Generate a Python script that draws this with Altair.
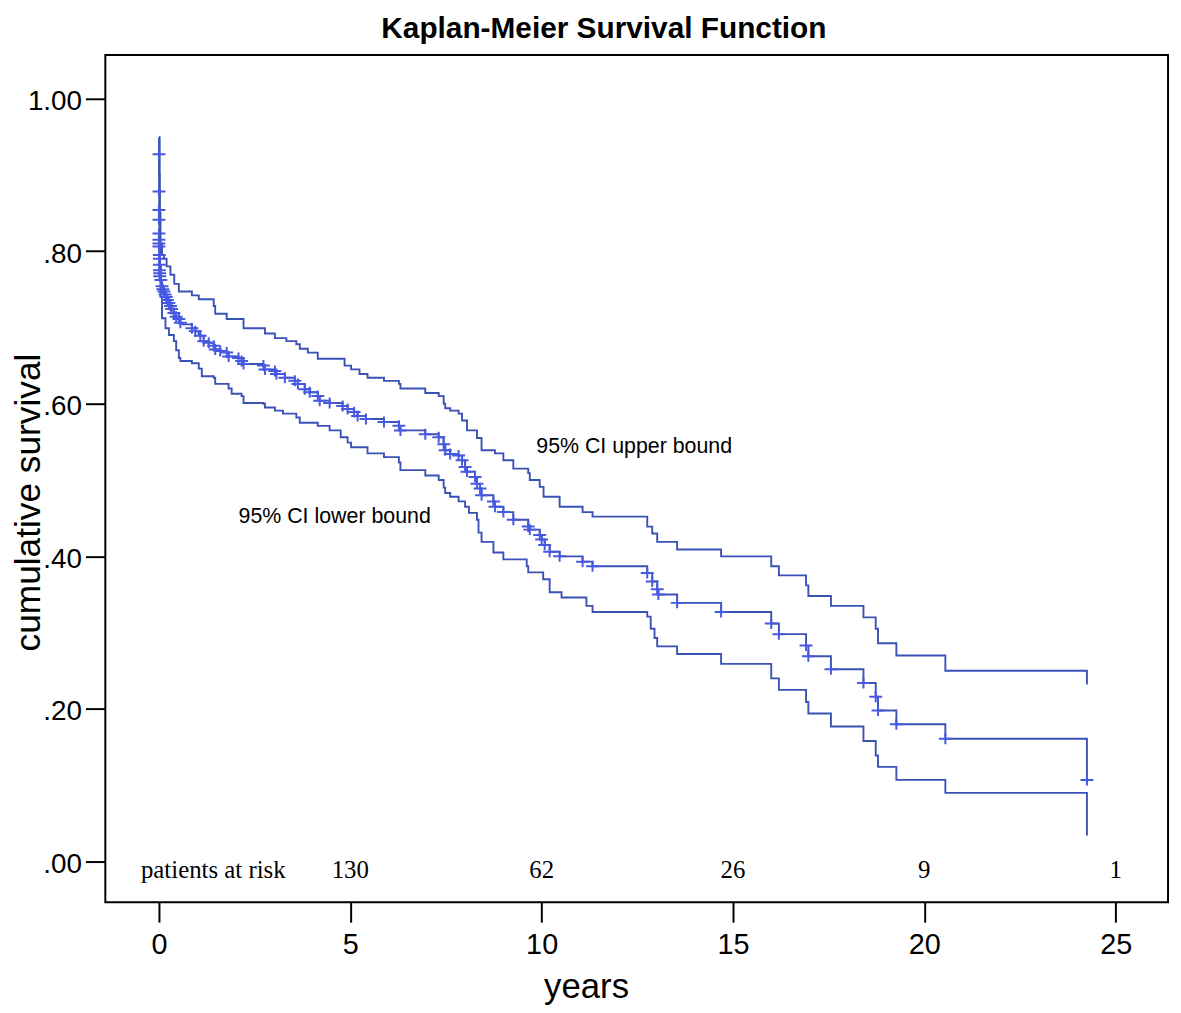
import altair as alt
import pandas as pd

# ---- Kaplan-Meier estimate (step curve) ----
km_t = [0.00, 0.01, 0.02, 0.03, 0.05, 0.08, 0.10, 0.13, 0.16, 0.19, 0.22, 0.26, 0.30, 0.33, 0.39, 0.45,
        0.52, 0.56, 0.61, 0.86, 0.95, 1.04, 1.08, 1.17, 1.30, 1.43, 1.47, 1.60, 1.77, 1.82, 2.08, 2.16,
        2.21, 2.73, 2.77, 3.03, 3.07, 3.29, 3.55, 3.63, 3.81, 3.94, 4.15, 4.20, 4.46, 4.80, 4.93, 5.10,
        5.19, 5.41, 5.88, 6.27, 6.31, 6.96, 7.31, 7.44, 7.48, 7.61, 7.83, 7.92, 8.00, 8.05, 8.26, 8.31,
        8.39, 8.43, 8.74, 8.78, 9.00, 9.26, 9.65, 9.69, 9.95, 10.00, 10.08, 10.21, 10.47, 11.07, 11.33,
        12.76, 12.89, 13.02, 13.05, 13.54, 14.69, 16.00, 16.20, 16.91, 16.97, 17.56, 18.41, 18.73, 18.79,
        19.27, 20.55, 24.25]
km_s = [0.949, 0.880, 0.820, 0.780, 0.762, 0.754, 0.750, 0.747, 0.743, 0.740, 0.736, 0.732, 0.728, 0.724, 0.719, 0.714,
        0.711, 0.706, 0.704, 0.699, 0.695, 0.691, 0.689, 0.682, 0.680, 0.676, 0.671, 0.669, 0.667, 0.662, 0.660, 0.656,
        0.652, 0.650, 0.645, 0.643, 0.639, 0.634, 0.630, 0.626, 0.619, 0.615, 0.610, 0.604, 0.601, 0.597, 0.593, 0.589,
        0.584, 0.580, 0.576, 0.571, 0.565, 0.560, 0.556, 0.547, 0.539, 0.534, 0.532, 0.526, 0.517, 0.511, 0.504, 0.495,
        0.489, 0.480, 0.472, 0.465, 0.458, 0.448, 0.439, 0.435, 0.428, 0.422, 0.415, 0.406, 0.400, 0.393, 0.387,
        0.378, 0.367, 0.357, 0.350, 0.339, 0.327, 0.312, 0.298, 0.283, 0.269, 0.252, 0.234, 0.216, 0.198,
        0.180, 0.161, 0.107]

# ---- 95% CI upper bound ----
up_t = [0.00, 0.01, 0.02, 0.04, 0.08, 0.13, 0.20, 0.30, 0.40, 0.52, 0.86, 1.04, 1.43, 1.47, 1.77, 2.21,
        2.77, 3.03, 3.33, 3.59, 3.68, 3.89, 4.15, 4.85, 5.02, 5.24, 5.45, 5.88, 6.27, 6.31, 6.96, 7.31,
        7.44, 7.48, 7.61, 7.83, 7.92, 8.05, 8.31, 8.43, 8.78, 9.00, 9.26, 9.65, 9.69, 9.95, 10.05, 10.47,
        11.07, 11.33, 12.76, 12.89, 13.02, 13.54, 14.69, 16.00, 16.20, 16.91, 16.97, 17.56, 18.41, 18.73,
        18.79, 19.27, 20.55, 24.25]
up_s = [0.949, 0.900, 0.850, 0.810, 0.795, 0.790, 0.780, 0.769, 0.757, 0.747, 0.742, 0.737, 0.728, 0.718, 0.711, 0.699,
        0.692, 0.686, 0.682, 0.678, 0.672, 0.667, 0.659, 0.650, 0.645, 0.639, 0.634, 0.630, 0.626, 0.620, 0.614, 0.610,
        0.600, 0.594, 0.591, 0.587, 0.578, 0.565, 0.555, 0.539, 0.535, 0.526, 0.515, 0.509, 0.500, 0.491, 0.478, 0.465,
        0.458, 0.452, 0.439, 0.430, 0.419, 0.409, 0.400, 0.387, 0.375, 0.362, 0.348, 0.335, 0.320, 0.305,
        0.286, 0.270, 0.250, 0.232]

# ---- 95% CI lower bound ----
lo_t = [0.00, 0.01, 0.02, 0.04, 0.08, 0.17, 0.26, 0.39, 0.45, 0.52, 0.56, 0.86, 1.04, 1.12, 1.43, 1.47,
        1.82, 1.90, 2.16, 2.21, 2.73, 2.77, 3.03, 3.24, 3.59, 3.68, 4.15, 4.46, 4.75, 4.93, 5.02, 5.45,
        5.88, 6.27, 6.31, 6.96, 7.31, 7.44, 7.48, 7.61, 7.83, 8.00, 8.10, 8.31, 8.35, 8.43, 8.74, 9.00,
        9.61, 9.65, 10.04, 10.21, 10.52, 11.17, 11.33, 12.76, 12.85, 12.95, 13.02, 13.54, 14.69, 16.00,
        16.20, 16.91, 16.97, 17.56, 18.41, 18.73, 18.79, 19.27, 20.55, 24.25]
lo_s = [0.949, 0.850, 0.780, 0.740, 0.712, 0.699, 0.690, 0.682, 0.670, 0.660, 0.656, 0.653, 0.646, 0.636, 0.634, 0.626,
        0.620, 0.613, 0.610, 0.601, 0.600, 0.595, 0.591, 0.587, 0.582, 0.575, 0.571, 0.565, 0.556, 0.549, 0.543, 0.535,
        0.530, 0.523, 0.513, 0.506, 0.500, 0.490, 0.483, 0.478, 0.472, 0.465, 0.457, 0.448, 0.431, 0.419, 0.405, 0.396,
        0.387, 0.379, 0.370, 0.353, 0.346, 0.335, 0.327, 0.321, 0.305, 0.293, 0.282, 0.272, 0.259, 0.240,
        0.225, 0.209, 0.194, 0.177, 0.158, 0.139, 0.124, 0.107, 0.090, 0.034]

# ---- censored observations (+ marks) ----
cens_t = [0.00, 0.00, 0.00, 0.00, 0.00, 0.00, 0.00, 0.00, 0.01, 0.01, 0.01, 0.01, 0.02, 0.02, 0.05, 0.08,
          0.10, 0.13, 0.16, 0.19, 0.22, 0.26, 0.30, 0.33, 0.39, 0.45, 0.52, 0.56, 0.86, 0.95, 1.08, 1.17,
          1.30, 1.43, 1.47, 1.60, 1.77, 1.82, 2.08, 2.16, 2.21, 2.73, 2.77, 3.03, 3.07, 3.29, 3.55, 3.63,
          3.81, 3.94, 4.15, 4.20, 4.46, 4.80, 4.93, 5.10, 5.19, 5.41, 5.88, 6.27, 6.31, 6.96, 7.31, 7.44,
          7.48, 7.61, 7.83, 7.92, 8.00, 8.05, 8.26, 8.31, 8.39, 8.43, 8.74, 8.78, 9.00, 9.26, 9.65, 9.69,
          9.95, 10.00, 10.08, 10.21, 10.47, 11.07, 11.33, 12.76, 12.89, 13.02, 13.05, 13.54, 14.69, 16.00,
          16.20, 16.91, 16.97, 17.56, 18.41, 18.73, 18.79, 19.27, 20.55, 24.25]
cens_s = [0.927, 0.878, 0.854, 0.841, 0.823, 0.815, 0.810, 0.806, 0.795, 0.790, 0.782, 0.775, 0.771, 0.767, 0.762, 0.754,
          0.750, 0.747, 0.743, 0.740, 0.736, 0.732, 0.728, 0.724, 0.719, 0.714, 0.711, 0.706, 0.699, 0.695, 0.689, 0.682,
          0.680, 0.676, 0.671, 0.669, 0.667, 0.662, 0.660, 0.656, 0.652, 0.650, 0.645, 0.643, 0.639, 0.634, 0.630, 0.626,
          0.619, 0.615, 0.610, 0.604, 0.601, 0.597, 0.593, 0.589, 0.584, 0.580, 0.576, 0.571, 0.565, 0.560, 0.556, 0.547,
          0.539, 0.534, 0.532, 0.526, 0.517, 0.511, 0.504, 0.495, 0.489, 0.480, 0.472, 0.465, 0.458, 0.448, 0.439, 0.435,
          0.428, 0.422, 0.415, 0.406, 0.400, 0.393, 0.387, 0.378, 0.367, 0.357, 0.350, 0.339, 0.327, 0.312,
          0.298, 0.283, 0.269, 0.252, 0.234, 0.216, 0.198, 0.180, 0.161, 0.107]

# ---- patients at risk ----
risk_t = [5, 10, 15, 20, 25]
risk_n = ["130", "62", "26", "9", "1"]
risk_label = "patients at risk"

ci_labels = ["95% CI upper bound", "95% CI lower bound"]
ci_label_t = [9.86, 2.08]
ci_label_s = [0.535, 0.444]

title_text = "Kaplan-Meier Survival Function"

x_ticks = [0, 5, 10, 15, 20, 25]
y_ticks = [0.0, 0.2, 0.4, 0.6, 0.8, 1.0]

LINE = "#3a52b6"
CENS = "#4759e0"
SANS = "Liberation Sans"
SERIF = "Liberation Serif"

curves = pd.concat([
    pd.DataFrame({"t": km_t, "s": km_s, "curve": "km"}),
    pd.DataFrame({"t": up_t, "s": up_s, "curve": "upper"}),
    pd.DataFrame({"t": lo_t, "s": lo_s, "curve": "lower"}),
])
cens_df = pd.DataFrame({"t": cens_t, "s": cens_s})
risk_df = pd.DataFrame({"t": risk_t, "n": risk_n, "s": [-0.021] * len(risk_t)})
risk_lab_df = pd.DataFrame({"t": [1.42], "n": [risk_label], "s": [-0.021]})
ci_df = pd.DataFrame({"t": ci_label_t, "s": ci_label_s, "txt": ci_labels})
title_df = pd.DataFrame({"txt": [title_text]})

xscale = alt.Scale(domain=[-1.4015, 26.369], nice=False, zero=False)
yscale = alt.Scale(domain=[-0.0534, 1.0569], nice=False, zero=False)

xaxis = alt.Axis(values=x_ticks, title="years", grid=False, domain=False,
                 tickSize=20, tickWidth=2, tickColor="black",
                 labelFont=SANS, labelFontSize=29, labelColor="black", labelPadding=9,
                 titleFont=SANS, titleFontSize=35, titleFontWeight="normal", titleColor="black",
                 titleX=484, titleY=96, titleBaseline="alphabetic", titleAlign="center")
yaxis = alt.Axis(values=y_ticks, title="cumulative survival", grid=False, domain=False,
                 tickSize=20, tickWidth=2, tickColor="black",
                 labelFont=SANS, labelFontSize=28, labelColor="black", labelPadding=4, labelOffset=3,
                 labelExpr="datum.value == 1 ? '1.00' : replace(format(datum.value, '.2f'), '0.', '.')",
                 titleFont=SANS, titleFontSize=35.5, titleFontWeight="normal", titleColor="black",
                 titleX=-66, titleY=450, titleAngle=270, titleBaseline="alphabetic", titleAlign="center")

lines = alt.Chart(curves).mark_line(interpolate="step-after", color=LINE, strokeWidth=1.9).encode(
    x=alt.X("t:Q", scale=xscale, axis=xaxis),
    y=alt.Y("s:Q", scale=yscale, axis=yaxis),
    detail="curve:N",
    order="t:Q",
)

marks = alt.Chart(cens_df).mark_point(
    shape="M-1,0L1,0M0,-0.85L0,0.85", filled=False, stroke=CENS, strokeWidth=2,
    size=169, opacity=1,
).encode(x="t:Q", y="s:Q")

risk = alt.Chart(risk_df).mark_text(font=SERIF, fontSize=25, color="black", align="center",
                                     baseline="alphabetic").encode(x="t:Q", y="s:Q", text="n:N")
risk_lab = alt.Chart(risk_lab_df).mark_text(font=SERIF, fontSize=25, color="black", align="center",
                                             baseline="alphabetic").encode(x="t:Q", y="s:Q", text="n:N")
ci_text = alt.Chart(ci_df).mark_text(font=SANS, fontSize=21.5, color="black", align="left",
                                      baseline="alphabetic").encode(x="t:Q", y="s:Q", text="txt:N")

# chart title, drawn as text above the frame
title = alt.Chart(title_df).mark_text(font=SANS, fontSize=30, fontWeight="bold", color="black",
                                       align="center", baseline="alphabetic").encode(
    x=alt.value(502), y=alt.value(-17), text="txt:N")

chart = alt.layer(lines, marks, risk, risk_lab, ci_text, title).properties(
    width=1070, height=853,
    autosize=alt.AutoSizeParams(type="none"),
    padding={"left": 98, "top": 44, "right": 5, "bottom": 100},
    background="white",
).configure_view(stroke="black", strokeWidth=2)

chart.save("out.html", embed_options={"renderer": "svg", "actions": False})
